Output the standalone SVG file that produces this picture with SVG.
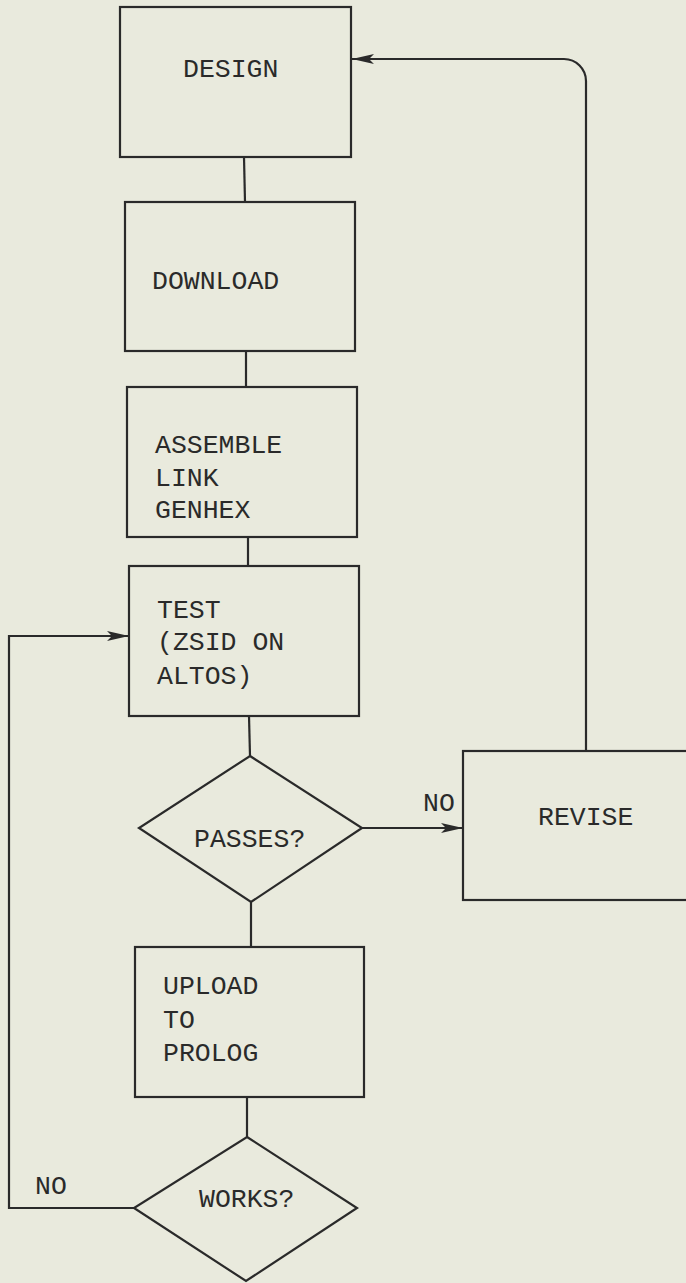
<svg xmlns="http://www.w3.org/2000/svg" width="686" height="1283" viewBox="0 0 686 1283">
<defs>
<style>
.box{fill:none;stroke:#2a2a2a;stroke-width:2.2}
.con{fill:none;stroke:#2a2a2a;stroke-width:2.2}
.t{font-family:"Liberation Mono","DejaVu Sans Mono",monospace;font-size:26.5px;fill:#2a2a2a}
</style>
<marker id="ah" markerUnits="userSpaceOnUse" markerWidth="24" markerHeight="12" refX="22" refY="6" orient="auto">
<path d="M0,1 L22,6 L0,11 L5,6 Z" fill="#2a2a2a"/>
</marker>
</defs>
<rect width="686" height="1283" fill="#e9eadd"/>
<g id="connectors">
<line class="con" x1="244" y1="157" x2="245" y2="202"/>
<line class="con" x1="246" y1="351" x2="246" y2="387"/>
<line class="con" x1="248" y1="537" x2="248" y2="566"/>
<line class="con" x1="249" y1="716" x2="250" y2="756"/>
<line class="con" x1="251" y1="902" x2="251" y2="947"/>
<line class="con" x1="247" y1="1097" x2="247" y2="1137"/>
<line class="con" x1="362" y1="828" x2="463" y2="828" marker-end="url(#ah)"/>
<path class="con" d="M586,751 L586,81 A22,22 0 0 0 564,59 L352,59" marker-end="url(#ah)"/>
<path class="con" d="M134,1208 L9,1208 L9,636 L129,636" marker-end="url(#ah)"/>
<text class="t" x="423" y="811">NO</text>
<text class="t" x="35" y="1194">NO</text>
</g>
<g id="design">
<rect class="box" x="120" y="7" width="231" height="150"/>
<text class="t" x="183" y="77">DESIGN</text>
</g>
<g id="download">
<rect class="box" x="125" y="202" width="230" height="149"/>
<text class="t" x="152" y="289">DOWNLOAD</text>
</g>
<g id="assemble">
<rect class="box" x="127" y="387" width="230" height="150"/>
<text class="t" x="155" y="453">ASSEMBLE</text>
<text class="t" x="155" y="486">LINK</text>
<text class="t" x="155" y="518">GENHEX</text>
</g>
<g id="test">
<rect class="box" x="129" y="566" width="230" height="150"/>
<text class="t" x="157" y="618">TEST</text>
<text class="t" x="157" y="650">(ZSID ON</text>
<text class="t" x="157" y="684">ALTOS)</text>
</g>
<g id="passes">
<polygon class="box" points="250,756 362,828 251,902 139,828"/>
<text class="t" x="194" y="847">PASSES?</text>
</g>
<g id="revise">
<rect class="box" x="463" y="751" width="240" height="149"/>
<text class="t" x="538" y="825">REVISE</text>
</g>
<g id="upload">
<rect class="box" x="135" y="947" width="229" height="150"/>
<text class="t" x="163" y="994">UPLOAD</text>
<text class="t" x="163" y="1028">TO</text>
<text class="t" x="163" y="1061">PROLOG</text>
</g>
<g id="works">
<polygon class="box" points="247,1137 357,1208 246,1281 134,1208"/>
<text class="t" x="199" y="1207">WORKS?</text>
</g>
</svg>
